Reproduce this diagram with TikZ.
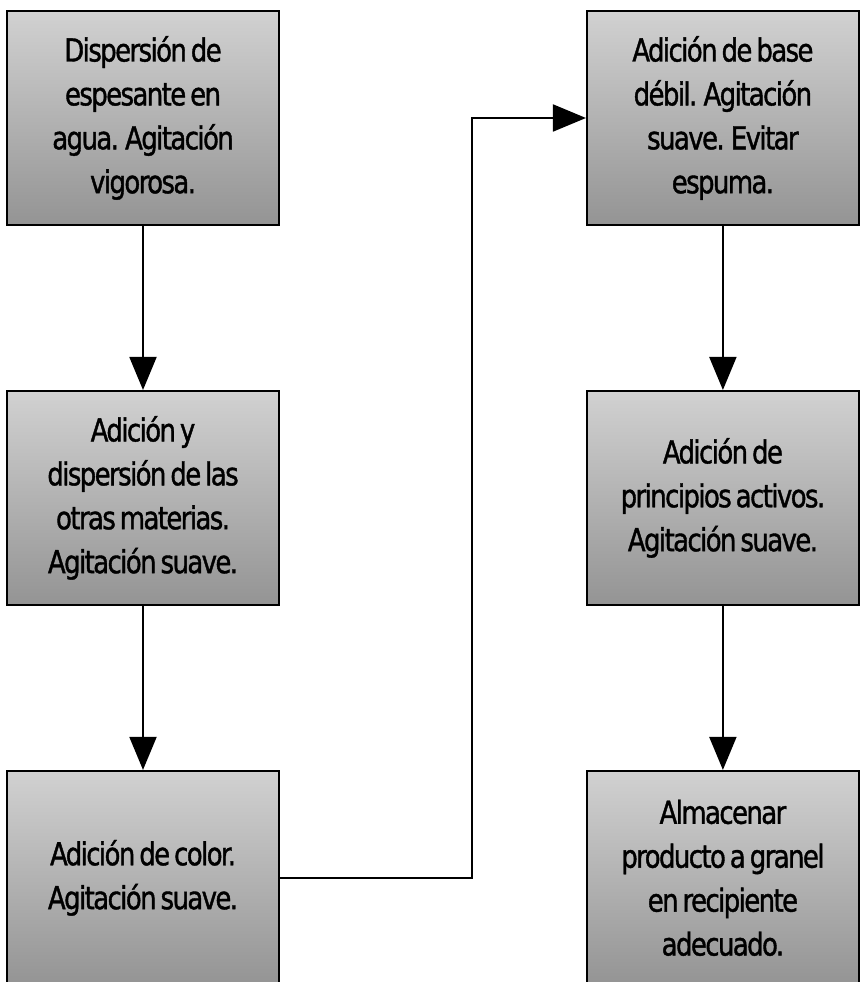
\documentclass[tikz,border=0pt]{standalone}
\usepackage{fontspec}
\setmainfont{DejaVu Sans}[FakeStretch=0.82,LetterSpace=-5,FakeBold=1.2,WordSpace=0.6]
\usetikzlibrary{positioning,arrows.meta}

\begin{document}
\begin{tikzpicture}[x=0.02cm,y=-0.02cm,node distance=7.6cm,on grid,
    paso/.style={draw,line width=1.1pt,shading=axis,top color=black!18,bottom color=black!42,
      minimum width=5.44cm,minimum height=4.28cm,align=center,
      font=\fontsize{18}{25}\selectfont},
    flecha/.style={line width=1.1pt,-{Triangle[length=0.66cm,width=0.54cm]}}]
   \path[use as bounding box,clip] (0,0) rectangle (862,982);
   \node[paso] (disp) at (143,118) {Dispersión de\\espesante en\\agua. Agitación\\vigorosa.};
   \node[paso] (otras) [below=of disp] {Adición y\\dispersión de las\\otras materias.\\Agitación suave.};
   \node[paso] (color) [below=of otras] {Adición de color.\\Agitación suave.};
   \node[paso] (base) [right=11.6cm of disp] {Adición de base\\débil. Agitación\\suave. Evitar\\espuma.};
   \node[paso] (activos) [below=of base] {Adición de\\principios activos.\\Agitación suave.};
   \node[paso] (granel) [below=of activos] {Almacenar\\producto a granel\\en recipiente\\adecuado.};
   \coordinate (giro) at (472,118);
    \path[flecha]
      (disp) edge (otras)
      (otras) edge (color)
      (base) edge (activos)
      (activos) edge (granel)
      ;
   \draw[flecha] (color.east) -| (giro) -- (base);
\end{tikzpicture}
\end{document}
